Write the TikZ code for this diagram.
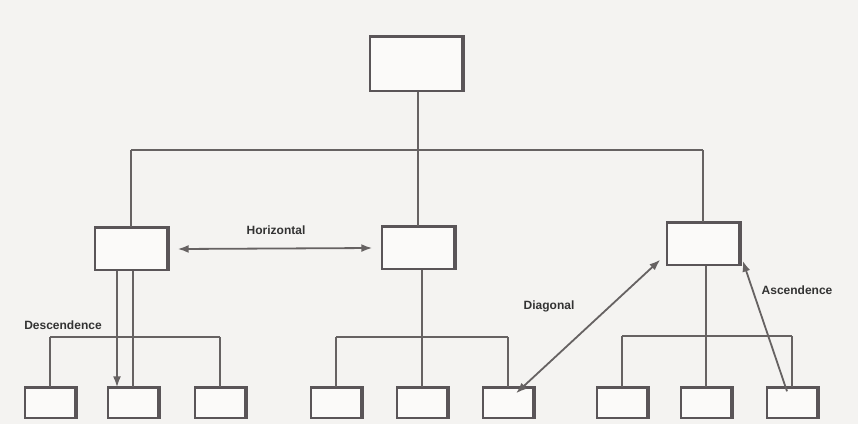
\documentclass[tikz,border=0pt]{standalone}
\usepackage{fontspec}
\setmainfont{Liberation Sans}
\usetikzlibrary{arrows.meta}
\definecolor{paper}{HTML}{F4F3F1}
\definecolor{ink}{HTML}{666262}
\definecolor{edge}{HTML}{5A5558}
\tikzset{
  box/.style={draw=edge, line width=1.4pt, fill=white!60!paper, inner sep=0pt},
  big/.style={box, minimum width=92pt, minimum height=54pt},
  mid/.style={box, minimum width=72pt, minimum height=42pt},
  leaf/.style={box, minimum width=50pt, minimum height=30pt},
  link/.style={draw=ink, line width=1.4pt},
  flow/.style={draw=ink, line width=1.8pt, -{Latex[length=11pt,width=8pt]}},
  both/.style={draw=ink, line width=1.8pt, {Latex[length=11pt,width=8pt]}-{Latex[length=11pt,width=8pt]}},
  lbl/.style={font=\bfseries\fontsize{12}{13}\selectfont, text=black!80, inner sep=1pt}
}
\begin{document}
\begin{tikzpicture}[x=1pt, y=-1pt]
\fill[paper] (0,0) rectangle (858,424);
\useasboundingbox (0,0) rectangle (858,424);

% root and second level
\node[big] (T) at (416,64) {};
\node[mid] (L) at (131,249) {};
\node[mid] (M) at (418,248) {};
\node[mid] (R) at (703,244) {};

% leaves
\foreach \n/\x in {L1/50, L2/133, L3/220, M1/336, M2/422, M3/508, R1/622, R2/706, R3/792}
  \node[leaf] (\n) at (\x,403) {};

% heavier top and right edges give each box its shadowed look
\foreach \n in {T, L, M, R, L1, L2, L3, M1, M2, M3, R1, R2, R3}
  \draw[edge, line width=3pt] (\n.north west) -- ([xshift=1pt]\n.north east) -- ([xshift=1pt]\n.south east);

% bus lines
\coordinate (bus0) at (0,150);
\coordinate (busL) at (0,337);
\coordinate (busM) at (0,337);
\coordinate (busR) at (0,336);

% root to second level
\draw[link] (T.south -| M.north) -- (M.north);
\draw[link] (L.north |- bus0) -- (R.north |- bus0);
\draw[link] (L.north |- bus0) -- (L.north);
\draw[link] (R.north |- bus0) -- (R.north);

% left group
\draw[link] (L2.north |- L.south) -- (L2.north);
\draw[link] (L1.north |- busL) -- (L3.north |- busL);
\draw[link] (L1.north |- busL) -- (L1.north);
\draw[link] (L3.north |- busL) -- (L3.north);

% middle group
\draw[link] (M.south -| M2.north) -- (M2.north);
\draw[link] (M1.north |- busM) -- (M3.north |- busM);
\draw[link] (M1.north |- busM) -- (M1.north);
\draw[link] (M3.north |- busM) -- (M3.north);

% right group
\draw[link] (R.south -| R2.north) -- (R2.north);
\draw[link] (R1.north |- busR) -- (R3.north |- busR);
\draw[link] (R1.north |- busR) -- (R1.north);
\draw[link] (R3.north |- busR) -- (R3.north);

% relations
\coordinate (dx) at (117,0);
\draw[flow] (dx |- L.south) -- (dx |- L2.north);
\node[lbl] at (63,325) {Descendence};

\draw[both] ([xshift=10pt]L.east) -- ([xshift=-9pt]M.west);
\node[lbl] at (276,230) {Horizontal};

\draw[both] ([xshift=8pt,yshift=-6pt]M3.north) -- ([xshift=-6pt,yshift=6pt]R.south west);
\node[lbl] at (549,306) {Diagonal};

\draw[flow] ([xshift=-5pt,yshift=-4pt]R3.north) -- ([xshift=3pt,yshift=5pt]R.south east);
\node[lbl] at (797,290) {Ascendence};
\end{tikzpicture}
\end{document}
